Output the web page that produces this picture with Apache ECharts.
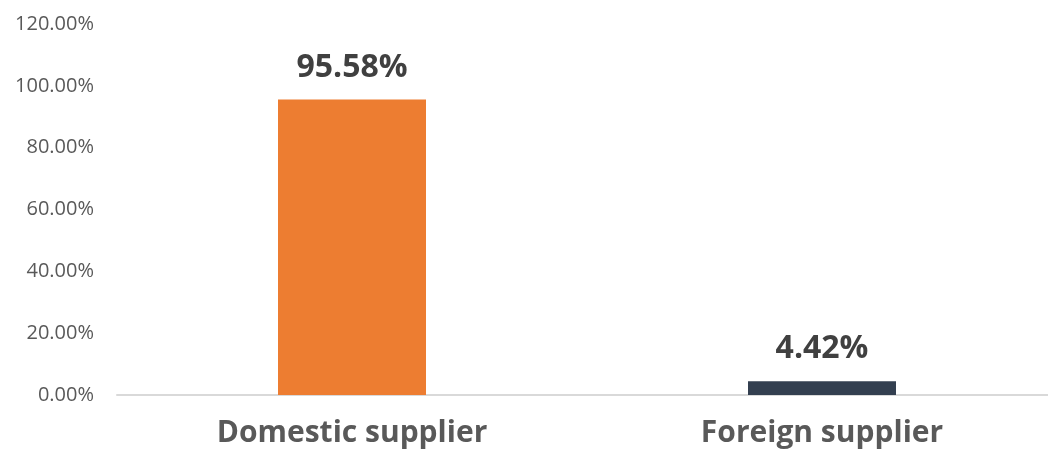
<!DOCTYPE html>
<html>
<head>
<meta charset="utf-8">
<script src="https://cdn.jsdelivr.net/npm/echarts@6/dist/echarts.min.js"></script>
<style>
  html, body { margin: 0; padding: 0; background: #ffffff; overflow: hidden; }
  #chart { width: 1060px; height: 459px; }
</style>
</head>
<body>
<div id="chart"></div>
<script>
// Share of purchases by supplier origin (percent)
const categories = ['Domestic supplier', 'Foreign supplier'];
const shares = [95.58, 4.42];
const barColors = ['#ED7D31', '#333F50'];

const chart = echarts.init(document.getElementById('chart'), null, { renderer: 'canvas' });

chart.setOption({
  animation: false,
  backgroundColor: '#ffffff',
  grid: { left: 117, top: 24, width: 940, bottom: 64, containLabel: false },
  xAxis: {
    type: 'category',
    data: categories,
    axisLine: { show: true, lineStyle: { color: '#D9D9D9', width: 2 } },
    axisTick: { show: false },
    axisLabel: {
      margin: 23,
      fontFamily: 'Open Sans',
      fontWeight: 'bold',
      fontSize: 30,
      color: '#595959'
    }
  },
  yAxis: {
    type: 'value',
    min: 0,
    max: 120,
    interval: 20,
    splitLine: { show: false },
    axisLine: { show: false },
    axisTick: { show: false },
    axisLabel: {
      margin: 23,
      fontFamily: 'Open Sans',
      fontSize: 20,
      color: '#595959',
      formatter: v => v.toFixed(2) + '%'
    }
  },
  series: [{
    type: 'bar',
    barWidth: 148,
    data: shares.map((v, i) => ({ value: v, itemStyle: { color: barColors[i] } })),
    label: {
      show: true,
      position: 'top',
      distance: 16,
      fontFamily: 'Open Sans',
      fontWeight: 'bold',
      fontSize: 32,
      color: '#404040',
      formatter: p => p.value.toFixed(2) + '%'
    }
  }]
});
</script>
</body>
</html>
